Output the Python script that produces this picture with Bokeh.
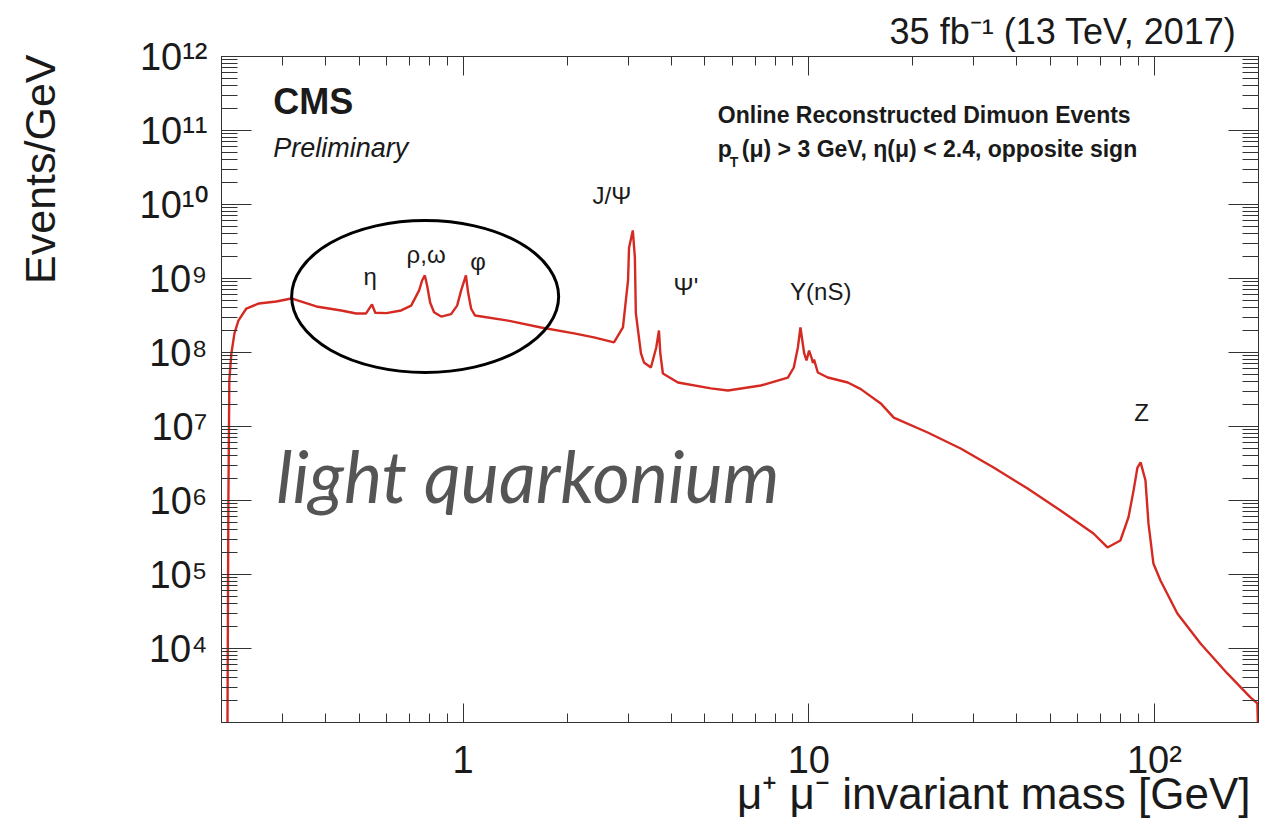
import numpy as np
from bokeh.plotting import figure
from bokeh.models import Range1d, FixedTicker, LogAxis, CustomJSTickFormatter, Label, Title
from bokeh.core.properties import value
from bokeh.embed import file_html
from bokeh.resources import INLINE

# ---------------- data ----------------
mass_gev = [
    0.2080, 0.2094, 0.2107, 0.2136, 0.2180, 0.2238, 0.2360, 0.2566, 0.2881, 0.3184,
    0.3759, 0.4440, 0.4907, 0.5240, 0.5450, 0.5570, 0.6000, 0.6618, 0.7075, 0.7460,
    0.7610, 0.7750, 0.7870, 0.8030, 0.8240, 0.8640, 0.9230, 0.9610, 0.9870, 1.0190,
    1.0340, 1.0550, 1.0830, 1.3490, 1.6800, 2.0940, 2.3910, 2.7320, 2.9000, 3.0000,
    3.0200, 3.0970, 3.1400, 3.1600, 3.2700, 3.3360, 3.4940, 3.6200, 3.6860, 3.7200,
    3.7840, 4.1820, 5.2100, 5.8340, 7.2660, 8.7000, 9.0500, 9.3000, 9.4600, 9.7000,
    9.8500, 10.020, 10.200, 10.280, 10.360, 10.620, 11.350, 12.970, 14.140, 16.150,
    17.610, 22.080, 27.500, 34.250, 42.960, 53.490, 66.630, 73.130, 79.700, 84.100,
    87.000, 89.300, 91.190, 94.200, 96.100, 99.300, 104.10, 116.50, 135.90, 162.50,
    189.50, 198.50, 199.90,
]
events_per_gev = [
    5.0e2, 1.0e6, 4.19e7, 9.7e7, 1.81e8, 2.70e8, 3.93e8, 4.60e8, 4.89e8, 5.37e8,
    4.19e8, 3.70e8, 3.37e8, 3.37e8, 4.46e8, 3.45e8, 3.40e8, 3.70e8, 4.30e8, 6.90e8,
    9.40e8, 1.10e9, 8.00e8, 4.70e8, 3.50e8, 3.06e8, 3.30e8, 4.30e8, 6.90e8, 1.10e9,
    6.40e8, 3.90e8, 3.16e8, 2.70e8, 2.18e8, 1.81e8, 1.60e8, 1.37e8, 2.18e8, 9.40e8,
    2.60e9, 4.46e9, 1.92e9, 3.40e8, 9.70e7, 7.33e7, 6.27e7, 1.17e8, 1.98e8, 9.70e7,
    5.20e7, 3.93e7, 3.27e7, 3.06e7, 3.58e7, 4.59e7, 6.27e7, 1.17e8, 2.18e8, 9.70e7,
    7.80e7, 1.06e8, 8.30e7, 7.20e7, 8.00e7, 5.37e7, 4.59e7, 3.93e7, 3.20e7, 2.05e7,
    1.32e7, 8.30e6, 5.05e6, 2.79e6, 1.45e6, 7.33e5, 3.58e5, 2.32e5, 2.88e5, 5.90e5,
    1.36e6, 2.79e6, 3.27e6, 1.86e6, 4.90e5, 1.41e5, 8.30e4, 2.97e4, 1.17e4, 4.60e3,
    2.18e3, 1.81e3, 5.0e2,
]

x_tick_values = [1, 10, 100]
x_tick_labels = ["1", "10", "10\u00b2"]
x_minor_ticks = [m * 10.0 ** e for e in (-1, 0, 1, 2) for m in range(2, 10) if 0.2 <= m * 10.0 ** e <= 200]

y_tick_values = [1e4, 1e5, 1e6, 1e7, 1e8, 1e9, 1e10, 1e11, 1e12]
y_tick_labels = ["10\u2074", "10\u2075", "10\u2076", "10\u2077", "10\u2078",
                 "10\u2079", "10\u00b9\u2070", "10\u00b9\u00b9", "10\u00b9\u00b2"]
y_minor_ticks = [m * 10.0 ** e for e in range(3, 12) for m in range(2, 10)]

peak_names = ["\u03b7", "\u03c1,\u03c9", "\u03c6", "J/\u03a8", "\u03a8'", "\u03a5(nS)", "Z"]

# ---------------- helpers: reference pixel -> data coordinate ----------------
def dx(px):
    return 10 ** ((px - 462.0) / 346.0)


def dy(py):
    return 10 ** (12.0 - (py - 56.0) / 74.0)


FONT = "Liberation Sans"
INK = "#1a1a1a"

p = figure(width=1268, height=827, x_axis_type="log", y_axis_type="log",
           x_range=Range1d(0.2, 200), y_range=Range1d(1e3, 1e12),
           output_backend="svg", toolbar_location=None,
           min_border_left=220, min_border_right=10, min_border_top=56, min_border_bottom=105)
p.background_fill_color = "white"
p.border_fill_color = "white"
p.outline_line_color = "#333333"
p.xgrid.visible = False
p.ygrid.visible = False

fmt_code = """
let best = -1, bd = 1e9;
for (let i = 0; i < vals.length; i++) {
  const d = Math.abs(Math.log10(tick) - Math.log10(vals[i]));
  if (d < bd) { bd = d; best = i; }
}
return (bd < 1e-6) ? labs[best] : "";
"""

xax = p.xaxis[0]
xax.ticker = FixedTicker(ticks=x_tick_values, minor_ticks=x_minor_ticks)
xax.formatter = CustomJSTickFormatter(args=dict(vals=x_tick_values, labs=x_tick_labels), code=fmt_code)
yax = p.yaxis[0]
yax.ticker = FixedTicker(ticks=y_tick_values, minor_ticks=y_minor_ticks)
yax.formatter = CustomJSTickFormatter(args=dict(vals=y_tick_values, labs=y_tick_labels), code=fmt_code)

for ax, maj, mnr in ((xax, 19, 9), (yax, 30, 16)):
    ax.major_tick_in = maj
    ax.major_tick_out = 0
    ax.minor_tick_in = mnr
    ax.minor_tick_out = 0
    ax.axis_line_color = "#333333"
    ax.major_tick_line_color = "#333333"
    ax.minor_tick_line_color = "#333333"
    ax.major_label_text_font = FONT
    ax.major_label_text_font_size = "38px"
    ax.major_label_text_color = INK
xax.major_label_standoff = 16
yax.major_label_standoff = 14

# blank axis label used only as spacing between tick labels and the y title
yax.axis_label = " "
yax.axis_label_standoff = 10
yax.axis_label_text_font_size = "38px"

top = LogAxis(ticker=FixedTicker(ticks=x_tick_values, minor_ticks=x_minor_ticks),
              formatter=CustomJSTickFormatter(code="return ''"),
              major_tick_in=19, major_tick_out=0, minor_tick_in=9, minor_tick_out=0,
              major_label_text_font_size="0px", axis_line_color="#333333",
              major_tick_line_color="#333333", minor_tick_line_color="#333333")
p.add_layout(top, "above")
right = LogAxis(ticker=FixedTicker(ticks=y_tick_values, minor_ticks=y_minor_ticks),
                formatter=CustomJSTickFormatter(code="return ''"),
                major_tick_in=30, major_tick_out=0, minor_tick_in=16, minor_tick_out=0,
                major_label_text_font_size="0px", axis_line_color="#333333",
                major_tick_line_color="#333333", minor_tick_line_color="#333333")
p.add_layout(right, "right")

# titles outside the frame
p.add_layout(Title(text="35 fb\u207b\u00b9 (13 TeV, 2017)", align="right", offset=22, standoff=5,
                   vertical_align="top",
                   text_font=FONT, text_font_size="36px", text_font_style="normal",
                   text_color=INK), "above")
p.add_layout(Title(text="\u03bc\u207a \u03bc\u207b invariant mass [GeV]", align="right", offset=8,
                   standoff=-34, text_font=FONT, text_font_size="44px", text_font_style="normal",
                   text_color=INK), "below")
p.add_layout(Title(text="Events/GeV", align="right", offset=-2, standoff=31, vertical_align="top",
                   text_font=FONT, text_font_size="43px", text_font_style="normal",
                   text_color=INK), "left")

# spectrum
p.line(mass_gev, events_per_gev, line_color="#d42a22", line_width=2.4)

# highlight ellipse
p.ellipse(x=[dx(424)], y=[dy(296)], width=267, height=152,
          width_units="screen", height_units="screen",
          fill_color=None, line_color="black", line_width=3)

# peak labels
peak_px = [(369, 276), (425, 254), (477, 261), (611, 195), (685, 286), (820, 291), (1141, 412)]
for name, (px, py) in zip(peak_names, peak_px):
    p.add_layout(Label(x=dx(px), y=dy(py), text=name, text_align="center", text_baseline="middle",
                       text_font=FONT, text_font_size="24px", text_color=INK))


def lab(px, py, text, size, style="normal", align="left", color=INK, font=FONT):
    p.add_layout(Label(x=dx(px), y=dy(py), text=text, text_align=align, text_baseline="alphabetic",
                       text_font=font, text_font_size=size, text_font_style=style,
                       text_color=color))


lab(272, 101, "CMS", "36px", "bold")
lab(272, 147, "Preliminary", "27px", "italic")
lab(717, 114, "Online Reconstructed Dimuon Events", "23px", "bold")
lab(717, 148, "p", "23px", "bold")
lab(729, 161, "T", "14px", "bold")
lab(741, 148, "(\u03bc) > 3 GeV,  \u03b7(\u03bc) < 2.4, opposite sign", "23px", "bold")

lab(275, 474, "light quarkonium", "72px", "italic", color="#555555", font="Lato")

open("out.html", "w").write(file_html(p, INLINE))
